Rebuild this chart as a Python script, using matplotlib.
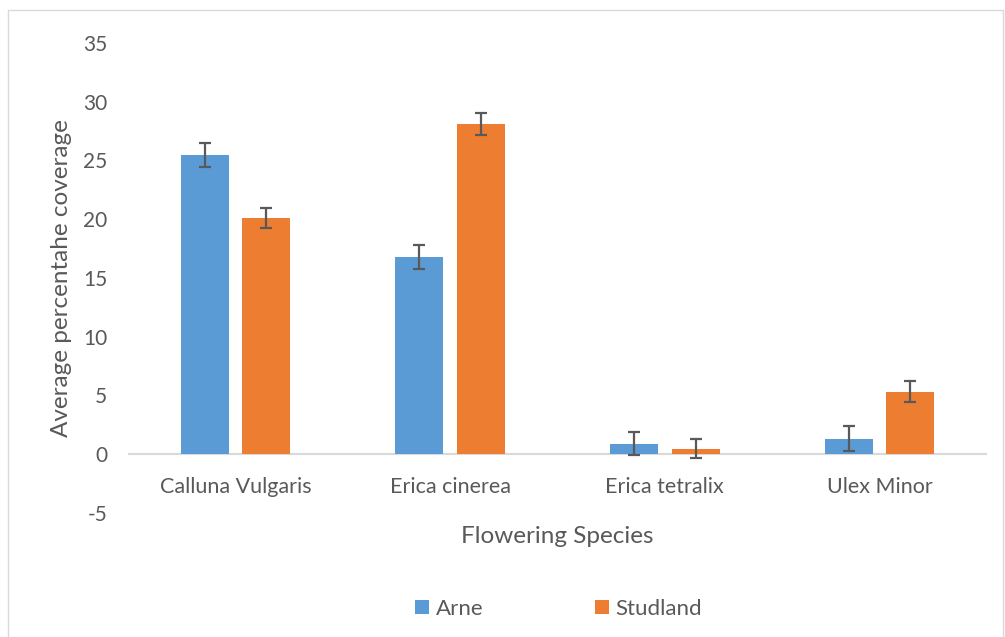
import matplotlib

matplotlib.use("Agg")

import matplotlib.pyplot as plt
import numpy as np
from matplotlib.patches import Rectangle


SPECIES = ["Calluna Vulgaris", "Erica cinerea", "Erica tetralix", "Ulex Minor"]
ARNE_MEAN = [25.45, 16.75, 0.87, 1.32]
ARNE_ERR = [1.02, 1.02, 0.98, 1.09]
STUDLAND_MEAN = [20.1, 28.1, 0.47, 5.32]
STUDLAND_ERR = [0.85, 0.9, 0.8, 0.9]
Y_TICKS = [-5, 0, 5, 10, 15, 20, 25, 30, 35]

TEXT_COLOR = "#595959"
plt.rcParams["font.family"] = ["Lato", "DejaVu Sans"]
plt.rcParams["axes.unicode_minus"] = False


def main():
    fig = plt.figure(figsize=(10.05, 6.37), dpi=100)
    ax = fig.add_axes([0.1274, 0.195, 0.8546, 0.7375])

    # outer chart frame like the spreadsheet export
    fig.patches.append(
        Rectangle((8 / 1005, -0.05), 995 / 1005, 1.05 - 10 / 637,
                  transform=fig.transFigure, fill=False,
                  edgecolor="#d9d9d9", linewidth=1.0)
    )

    x = np.arange(len(SPECIES))
    width = 0.2236
    offset = 0.143
    err_style = dict(ecolor=TEXT_COLOR, elinewidth=1.6, capsize=4.5, capthick=1.6)

    ax.bar(x - offset, ARNE_MEAN, width, color="#5B9BD5", label="Arne",
           yerr=ARNE_ERR, error_kw=err_style, zorder=2)
    ax.bar(x + offset, STUDLAND_MEAN, width, color="#ED7D31", label="Studland",
           yerr=STUDLAND_ERR, error_kw=err_style, zorder=2)

    ax.axhline(0, color="#d9d9d9", linewidth=1.5, zorder=1)
    ax.set_xlim(-0.5, len(SPECIES) - 0.5)
    ax.set_ylim(-5, 35)
    ax.set_yticks(Y_TICKS)
    ax.set_xticks([])

    # category labels sit just under the zero line, not at the axes bottom
    for pos, name in zip(x, SPECIES):
        ax.text(pos, -3.32, name, ha="center", va="baseline",
                fontsize=15.5, color=TEXT_COLOR)

    for spine in ax.spines.values():
        spine.set_visible(False)
    ax.tick_params(axis="y", length=0, labelsize=15, colors=TEXT_COLOR, pad=15)

    ax.set_xlabel("Flowering Species", fontsize=17.5, color=TEXT_COLOR)
    ax.xaxis.set_label_coords(0.5, -0.028)
    ax.set_ylabel("Average percentahe coverage", fontsize=17.5, color=TEXT_COLOR)
    ax.yaxis.set_label_coords(-0.065, 0.5)

    legend = fig.legend(loc="center", bbox_to_anchor=(0.5557, 0.044), ncol=2,
                        frameon=False, fontsize=16, handlelength=0.63,
                        handleheight=0.63, handletextpad=0.3, columnspacing=5.0)
    for text in legend.get_texts():
        text.set_color(TEXT_COLOR)

    fig.savefig("out.png", dpi=100)
    plt.close(fig)


if __name__ == "__main__":
    main()
